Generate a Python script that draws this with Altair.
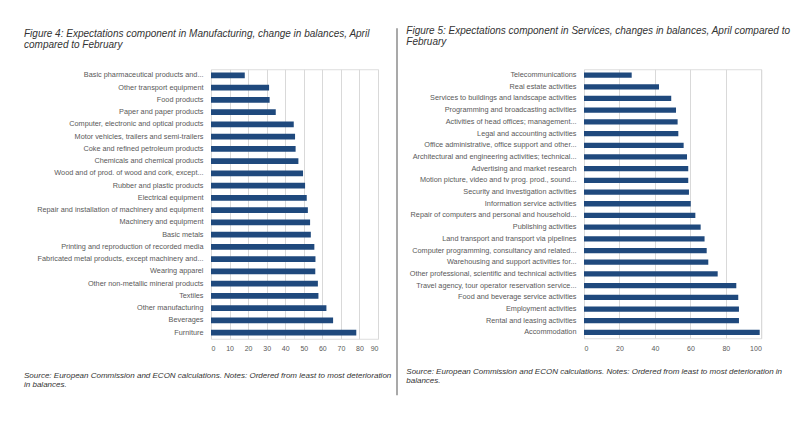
import altair as alt
import pandas as pd

# ---------------- data ----------------
manu_labels = [
    "Basic pharmaceutical products and...",
    "Other transport equipment",
    "Food products",
    "Paper and paper products",
    "Computer, electronic and optical products",
    "Motor vehicles, trailers and semi-trailers",
    "Coke and refined petroleum products",
    "Chemicals and chemical products",
    "Wood and of prod. of wood and cork, except...",
    "Rubber and plastic products",
    "Electrical equipment",
    "Repair and installation of machinery and equipment",
    "Machinery and equipment",
    "Basic metals",
    "Printing and reproduction of recorded media",
    "Fabricated metal products, except machinery and...",
    "Wearing apparel",
    "Other non-metallic mineral products",
    "Textiles",
    "Other manufacturing",
    "Beverages",
    "Furniture",
]
manu_values = [18.2, 31.3, 31.6, 34.9, 44.6, 45.3, 45.6, 47.1, 49.6, 50.7, 51.6,
               52.2, 53.4, 53.8, 55.7, 56.3, 56.2, 57.6, 57.9, 62.2, 65.8, 78.3]
manu_ticks = [0, 10, 20, 30, 40, 50, 60, 70, 80, 90]

serv_labels = [
    "Telecommunications",
    "Real estate activities",
    "Services to buildings and landscape activities",
    "Programming and broadcasting activities",
    "Activities of head offices; management...",
    "Legal and accounting activities",
    "Office administrative, office support and other...",
    "Architectural and engineering activities; technical...",
    "Advertising and market research",
    "Motion picture, video and tv prog. prod., sound...",
    "Security and investigation activities",
    "Information service activities",
    "Repair of computers and personal and household...",
    "Publishing activities",
    "Land transport and transport via pipelines",
    "Computer programming, consultancy and related...",
    "Warehousing and support activities for...",
    "Other professional, scientific and technical activities",
    "Travel agency, tour operator reservation service...",
    "Food and beverage service activities",
    "Employment activities",
    "Rental and leasing activities",
    "Accommodation",
]
serv_values = [26.9, 42.3, 49.2, 51.9, 52.8, 53.2, 56.2, 58.1, 58.8, 58.8, 59.2,
               60.2, 62.8, 65.8, 68.0, 69.2, 70.1, 75.4, 85.9, 87.0, 87.4, 87.4, 99.1]
serv_ticks = [0, 20, 40, 60, 80, 100]

title_left = ["Figure 4: Expectations component in Manufacturing, change in balances, April",
              "compared to February"]
title_right = ["Figure 5: Expectations component in Services, changes in balances, April compared to",
               "February"]
source_left = ["Source: European Commission and ECON calculations. Notes: Ordered from least to most deterioration",
               "in balances."]
source_right = ["Source: European Commission and ECON calculations. Notes: Ordered from least to most deterioration in",
                "balances."]

BAR = "#1F497D"
GRID = "#D9D9D9"
LAB = "#595959"
TXT = "#333333"
FONT = "Liberation Sans"


def text_layer(t, x, y, size, italic=True):
    return alt.Chart(pd.DataFrame({"t": [t]})).mark_text(
        align="left", baseline="middle", fontSize=size, font=FONT,
        fontStyle="italic" if italic else "normal", color=TXT
    ).encode(text="t:N", x=alt.value(x), y=alt.value(y))


def rule_layer(x, y1, y2, color, sw):
    return alt.Chart(pd.DataFrame({"a": [0]})).mark_rule(color=color, strokeWidth=sw).encode(
        x=alt.value(x), y=alt.value(y1), y2=alt.value(y2))


def bars(labels, values, ticks, W, H, label_size):
    df = pd.DataFrame({"cat": labels, "val": values})
    return alt.Chart(df).mark_bar(color=BAR).encode(
        x=alt.X("val:Q",
                scale=alt.Scale(domain=[ticks[0], ticks[-1]], nice=False),
                axis=alt.Axis(values=ticks, grid=True, gridColor=GRID, gridWidth=1,
                              domain=False, ticks=False, labelFontSize=7, labelFont=FONT,
                              labelColor=LAB, labelPadding=6, title=None)),
        y=alt.Y("cat:N", sort=labels,
                scale=alt.Scale(paddingInner=0.55, paddingOuter=0.275),
                axis=alt.Axis(title=None, ticks=False, domain=False, grid=False,
                              labelFontSize=label_size, labelFont=FONT, labelLimit=400,
                              labelPadding=8, labelColor=LAB)),
    ).properties(width=W, height=H)


# left panel: plot origin (212, 69)
LX, LY = 212, 69
left = alt.layer(
    bars(manu_labels, manu_values, manu_ticks, 167, 269.5, 7.3),
    text_layer(title_left[0], 25 - LX, 34 - LY, 10),
    text_layer(title_left[1], 25 - LX, 45 - LY, 10),
    text_layer(source_left[0], 25 - LX, 376 - LY, 8),
    text_layer(source_left[1], 25 - LX, 385 - LY, 8),
    rule_layer(398 - LX, 28 - LY, 395 - LY, "#8C8C8C", 1.5),
)

# right panel: plot origin (582.7, 71.85)
RX, RY = 582.7, 71.85
right = alt.layer(
    bars(serv_labels, serv_values, serv_ticks, 177.3, 269, 7.3),
    rule_layer(401.5 - RX, 28 - RY, 395 - RY, "#FFFFFF", 1),
    text_layer(title_right[0], 405 - RX, 34 - RY, 10),
    text_layer(title_right[1], 405 - RX, 45 - RY, 10),
    text_layer(source_right[0], 405 - RX, 375 - RY, 8),
    text_layer(source_right[1], 405 - RX, 384 - RY, 8),
)

chart = alt.hconcat(left, right, spacing=2).properties(
    padding={"left": 15, "top": 16.25, "right": 0, "bottom": 5}
).configure_view(stroke=None).configure(background="white")

chart.save("out.html", embed_options={"renderer": "svg", "actions": False})
